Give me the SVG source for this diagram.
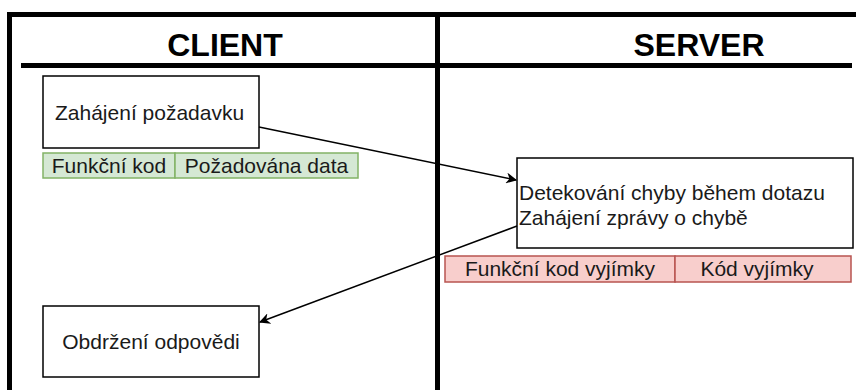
<svg xmlns="http://www.w3.org/2000/svg" width="856" height="390" viewBox="0 0 856 390">
  <style>
    .lane { stroke: #000; stroke-width: 5; fill: none; }
    .box { fill: #fff; stroke: #000; stroke-width: 1.5; }
    .hdr { font-family: "Liberation Sans", Arial, sans-serif; font-weight: bold; font-size: 32px; fill: #000; }
    .txt { font-family: "Liberation Sans", Arial, sans-serif; font-size: 21px; fill: #1a1a1a; }
    .green { fill: #d5e8d4; stroke: #82b366; stroke-width: 1.5; }
    .red { fill: #f8cecc; stroke: #b85450; stroke-width: 1.5; }
    .edge { stroke: #000; stroke-width: 1.5; fill: none; }
  </style>
  <defs>
    <marker id="arrow" viewBox="0 0 10 10" refX="9" refY="5" markerWidth="11" markerHeight="11" markerUnits="userSpaceOnUse" orient="auto">
      <path d="M0,0 L10,5 L0,10 L3,5 Z" fill="#000"/>
    </marker>
  </defs>
  <rect width="856" height="390" fill="#fff"/>

  <!-- swimlane frame -->
  <g id="lanes">
    <path class="lane" d="M9.5,12 V390 M7,14.5 H856 M437.5,12 V390 M21,65.5 H852"/>
    <text class="hdr" x="225" y="56" text-anchor="middle">CLIENT</text>
    <text class="hdr" x="699" y="56" text-anchor="middle">SERVER</text>
  </g>

  <g id="request">
    <rect class="box" x="43" y="76" width="216" height="72"/>
    <text class="txt" x="55" y="120">Zahájení požadavku</text>
  </g>

  <g id="request-fields">
    <rect class="green" x="43" y="153" width="132" height="25"/>
    <rect class="green" x="175" y="153" width="183" height="25"/>
    <text class="txt" x="109" y="173" text-anchor="middle">Funkční kod</text>
    <text class="txt" x="266.5" y="173" text-anchor="middle">Požadována data</text>
  </g>

  <g id="server-process">
    <rect class="box" x="517" y="158" width="336" height="90"/>
    <text class="txt" x="519" y="200">Detekování chyby během dotazu</text>
    <text class="txt" x="519" y="225">Zahájení zprávy o chybě</text>
  </g>

  <g id="error-fields">
    <rect class="red" x="445" y="256" width="230" height="26"/>
    <rect class="red" x="675" y="256" width="176" height="26"/>
    <text class="txt" x="560" y="276" text-anchor="middle">Funkční kod vyjímky</text>
    <text class="txt" x="757" y="276" text-anchor="middle">Kód vyjímky</text>
  </g>

  <g id="response">
    <rect class="box" x="43" y="306" width="216" height="71"/>
    <text class="txt" x="151" y="349" text-anchor="middle">Obdržení odpovědi</text>
  </g>

  <g id="connectors">
    <path class="edge" d="M259,127 L516,180" marker-end="url(#arrow)"/>
    <path class="edge" d="M517,226 L260,322" marker-end="url(#arrow)"/>
  </g>
</svg>
